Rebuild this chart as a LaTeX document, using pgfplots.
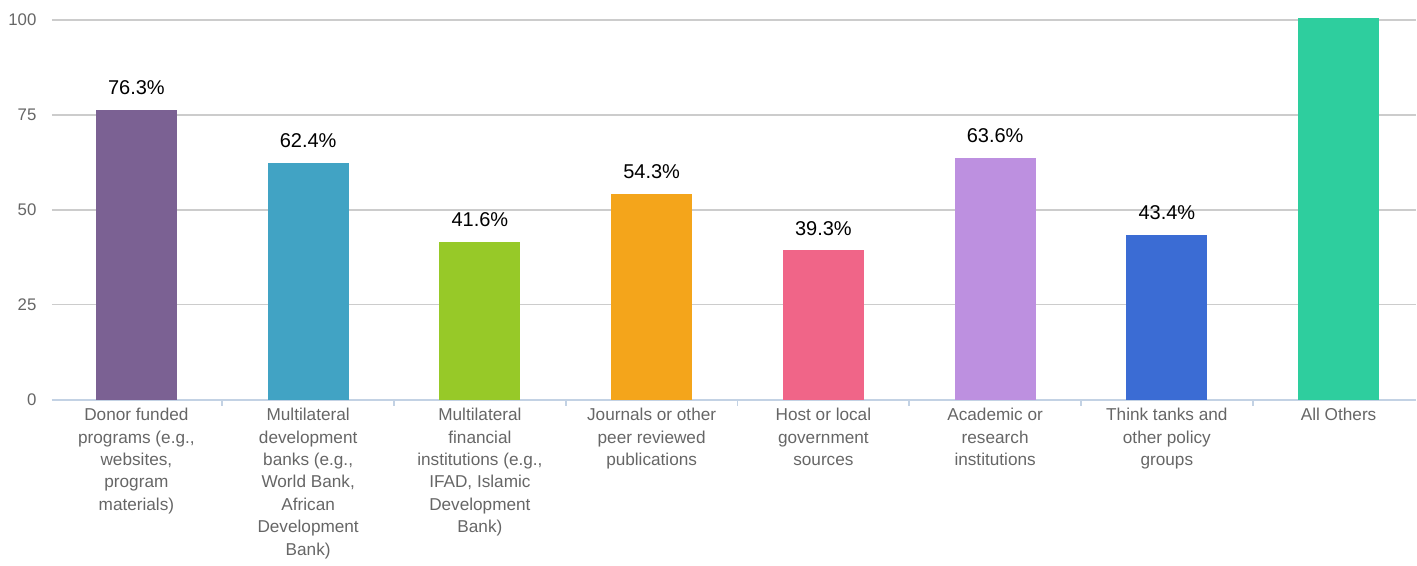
\documentclass[border=0pt]{standalone}
\usepackage{pgfplots}
\pgfplotsset{compat=1.18}
\usepackage{fontspec}
\setmainfont{Liberation Sans}

\definecolor{cDonor}{HTML}{7B6193}
\definecolor{cMdb}{HTML}{41A3C4}
\definecolor{cMfi}{HTML}{97C928}
\definecolor{cJour}{HTML}{F4A51B}
\definecolor{cHost}{HTML}{F06588}
\definecolor{cAcad}{HTML}{BD90E0}
\definecolor{cThink}{HTML}{3B6CD4}
\definecolor{cOther}{HTML}{2ECE9E}
\definecolor{gridgray}{HTML}{CCCCCC}
\definecolor{axisblue}{HTML}{C3D2E4}
\definecolor{labgray}{HTML}{666666}

\pgfplotsset{
  vlab/.style={
    nodes near coords={\pgfmathprintnumber[fixed,fixed zerofill,precision=1]{\pgfplotspointmeta}\%},
    every node near coord/.append style={font=\fontsize{10}{12}\selectfont, text=black, yshift=4pt},
  },
}

\begin{document}
\begin{tikzpicture}
\begin{axis}[
    scale only axis,
    width=682.5pt, height=200pt,
    xmin=-0.4917, xmax=7.4506,
    ymin=0, ymax=105.26,
    ybar, bar width=40.5pt, bar shift=0pt,
    axis lines*=left,
    y axis line style={draw=none},
    x axis line style={color=axisblue, line width=1pt},
    ytick={0,25,50,75,100},
    ymajorgrids,
    grid style={color=gridgray, line width=0.7pt},
    ytick style={draw=none},
    xtick={0,...,7},
    major x tick style={draw=none},
    minor xtick={0.5,1.5,...,6.5},
    minor x tick style={color=axisblue, line width=0.8pt},
    minor tick length=3pt,
    tick align=outside,
    /pgf/number format/assume math mode=true,
    yticklabel style={font=\fontsize{8.4}{10}\selectfont, text=labgray},
    xticklabel style={font=\fontsize{8.6}{11.2}\selectfont, text=labgray, align=center, yshift=3.5pt},
    xticklabels={
      {Donor funded\\programs (e.g.,\\websites,\\program\\materials)},
      {Multilateral\\development\\banks (e.g.,\\World Bank,\\African\\Development\\Bank)},
      {Multilateral\\financial\\institutions (e.g.,\\IFAD, Islamic\\Development\\Bank)},
      {Journals or other\\peer reviewed\\publications},
      {Host or local\\government\\sources},
      {Academic or\\research\\institutions},
      {Think tanks and\\other policy\\groups},
      {All Others}},
]
\addplot[fill=cDonor, draw=none, vlab] coordinates {(0,76.3)};
\addplot[fill=cMdb, draw=none, vlab] coordinates {(1,62.4)};
\addplot[fill=cMfi, draw=none, vlab] coordinates {(2,41.6)};
\addplot[fill=cJour, draw=none, vlab] coordinates {(3,54.3)};
\addplot[fill=cHost, draw=none, vlab] coordinates {(4,39.3)};
\addplot[fill=cAcad, draw=none, vlab] coordinates {(5,63.6)};
\addplot[fill=cThink, draw=none, vlab] coordinates {(6,43.4)};
\addplot[fill=cOther, draw=none] coordinates {(7,100.5)};
\end{axis}
\path ([xshift=-26pt]current axis.south west);
\end{tikzpicture}
\end{document}
